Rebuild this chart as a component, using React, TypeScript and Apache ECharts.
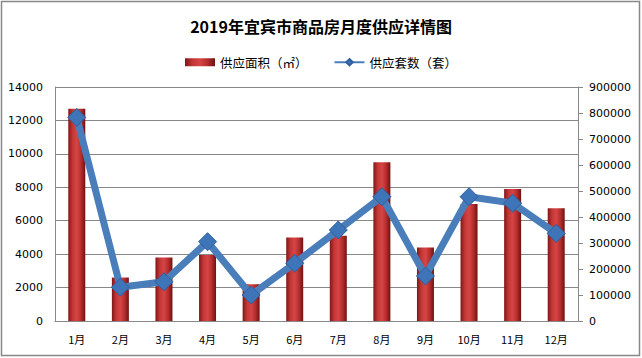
import React, { useEffect, useRef } from "react";
import * as echarts from "echarts";

const months = ["1月", "2月", "3月", "4月", "5月", "6月", "7月", "8月", "9月", "10月", "11月", "12月"];
const supplyArea = [12700, 2600, 3800, 3950, 2200, 5000, 5100, 9500, 4400, 7000, 7900, 6750];
const supplyUnits = [783000, 130000, 151000, 305000, 100000, 222000, 350000, 478000, 173000, 478000, 453000, 337000];
const titleText = "2019年宜宾市商品房月度供应详情图";
const areaName = "供应面积（㎡）";
const unitsName = "供应套数（套）";

export default function App() {
  const ref = useRef<HTMLDivElement>(null);
  useEffect(() => {
    document.body.style.margin = "0";
    const chart = echarts.init(ref.current!, null, { renderer: "svg" });
    const axisFont = { fontFamily: "DejaVu Sans", fontSize: 11, color: "#000" };
    const plain = (v: number) => String(v);
    chart.setOption({
      animation: false,
      backgroundColor: "#fff",
      title: {
        text: titleText,
        left: "center",
        top: 13,
        textStyle: { fontFamily: "Noto Sans CJK SC", fontSize: 16, fontWeight: "bold", color: "#000" },
      },
      legend: {
        top: 51,
        left: "center",
        itemGap: 26,
        itemWidth: 30,
        itemHeight: 8,
        textStyle: { fontFamily: "Noto Sans CJK SC", fontSize: 12.5, color: "#000" },
        data: [
          { name: areaName, icon: "rect" },
          { name: unitsName },
        ],
      },
      graphic: [
        {
          type: "rect",
          shape: { x: 1.5, y: 1.5, width: 638, height: 354 },
          style: { fill: "none", stroke: "#888", lineWidth: 1.5 },
          silent: true,
        },
      ],
      grid: { left: 55, right: 64, top: 87, bottom: 37 },
      xAxis: {
        type: "category",
        data: months,
        axisLine: { lineStyle: { color: "#888" } },
        axisTick: { show: false },
        axisLabel: { ...axisFont, margin: 12, fontFamily: "Noto Sans CJK SC" },
      },
      yAxis: [
        {
          type: "value",
          min: 0,
          max: 14000,
          interval: 2000,
          axisLine: { show: true, lineStyle: { color: "#888" } },
          axisTick: { show: false },
          splitLine: { lineStyle: { color: "#888", width: 1 } },
          axisLabel: { ...axisFont, margin: 12, formatter: plain },
        },
        {
          type: "value",
          min: 0,
          max: 900000,
          interval: 100000,
          position: "right",
          axisLine: { show: true, lineStyle: { color: "#888" } },
          axisTick: { show: true, length: 5, lineStyle: { color: "#888" } },
          splitLine: { show: false },
          axisLabel: { ...axisFont, margin: 11, formatter: plain },
        },
      ],
      series: [
        {
          name: areaName,
          type: "bar",
          yAxisIndex: 0,
          data: supplyArea,
          barWidth: 17,
          itemStyle: {
            color: new echarts.graphic.LinearGradient(0, 0, 1, 0, [
              { offset: 0, color: "#7e1717" },
              { offset: 0.25, color: "#c43636" },
              { offset: 0.5, color: "#d64545" },
              { offset: 0.75, color: "#b52d2d" },
              { offset: 1, color: "#6e1212" },
            ]),
          },
        },
        {
          name: unitsName,
          type: "line",
          yAxisIndex: 1,
          data: supplyUnits,
          symbol: "diamond",
          symbolSize: 18,
          lineStyle: { color: "#4a7ebb", width: 7 },
          itemStyle: { color: "#3e74b8", borderColor: "#2f5f9e", borderWidth: 1 },
        },
      ],
    });
    return () => chart.dispose();
  }, []);
  return <div ref={ref} style={{ width: 642, height: 358 }} />;
}
